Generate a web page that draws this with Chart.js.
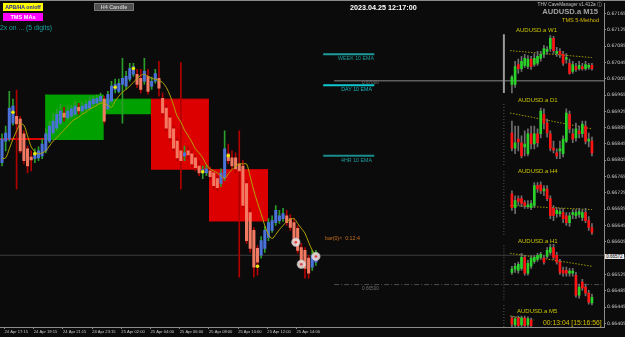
<!DOCTYPE html>
<html>
<head>
<meta charset="utf-8">
<script src="https://cdn.jsdelivr.net/npm/chart.js@4.4.0/dist/chart.umd.min.js"></script>
<style>
html, body { margin: 0; padding: 0; background: #0b0b0b; }
#wrap { position: relative; width: 625px; height: 337px; overflow: hidden; background: #0b0b0b; }
#chart { position: absolute; left: 0; top: 0; }
#topline { position: absolute; left: 0; top: 0; width: 625px; height: 1px; background: #8a8a8a; }
.t { position: absolute; white-space: nowrap; font-family: 'Liberation Sans', 'DejaVu Sans', sans-serif; line-height: 1; }
.btn { position: absolute; width: 40px; height: 8px; line-height: 8px; text-align: center; font-family: 'Liberation Sans', sans-serif; font-weight: bold; white-space: nowrap; overflow: hidden; }
</style>
</head>
<body>
<div id="wrap">
  <canvas id="chart" width="625" height="337"></canvas>
  <div id="topline"></div>

  <div class="btn" style="left:3px;top:3px;background:#ffff00;color:#1a1aa8;font-size:5.2px">APB/HA on/off</div>
  <div class="btn" style="left:3px;top:13px;background:#ff00ff;color:#ffffff;font-size:5.6px">TMS MAs</div>
  <div class="btn" style="left:94px;top:3px;background:#505050;color:#c8c8c8;font-size:5.4px;box-sizing:border-box;border:1px solid #777;line-height:6px">H4 Candle</div>
  <div class="t" style="left:0px;top:25px;font-size:6.8px;color:#1a9e9e">2x on ... (5 digits)</div>

  <div class="t" style="left:350px;top:3.5px;font-size:7.2px;font-weight:bold;color:#ffffff">2023.04.25 12:17:00</div>
  <div class="t" style="right:23px;top:2.5px;font-size:4.7px;color:#c0c0c0">THV CaveManager v1.412a ⓘ</div>
  <div class="t" style="right:27px;top:7.5px;font-size:7.6px;font-weight:bold;color:#a0a0a0">AUDUSD.a M15</div>
  <div class="t" style="right:26px;top:17.5px;font-size:5.6px;color:#d8b800">TMS 5-Method</div>

  <div class="t" style="left:516px;top:27px;font-size:6px;color:#c8c400">AUDUSD.a W1</div>
  <div class="t" style="left:518px;top:97px;font-size:6px;color:#c8c400">AUDUSD.a D1</div>
  <div class="t" style="left:518px;top:168px;font-size:6px;color:#c8c400">AUDUSD.a H4</div>
  <div class="t" style="left:518px;top:238px;font-size:6px;color:#c8c400">AUDUSD.a H1</div>
  <div class="t" style="left:517px;top:308px;font-size:6px;color:#c8c400">AUDUSD.a M5</div>

  <div class="t" style="right:251px;top:55.5px;font-size:5.3px;color:#1e9c9c">WEEK 10 EMA</div>
  <div class="t" style="right:253px;top:86.5px;font-size:5.3px;color:#19b4bc">DAY 10 EMA</div>
  <div class="t" style="right:253px;top:157.5px;font-size:5.3px;color:#1e9c9c">4HR 10 EMA</div>
  <div class="t" style="left:362px;top:80.5px;font-size:4.7px;color:#707070">0.67000</div>
  <div class="t" style="left:362px;top:287px;font-size:4.7px;color:#707070">0.66500</div>
  <div class="t" style="left:325px;top:235.5px;font-size:5.3px;color:#c87020">bar(0)&lt;&nbsp;&nbsp;0:12:4</div>
  <div class="t" style="left:543px;top:319.5px;font-size:6.8px;color:#d4c000">00:13:04 [15:16:56]</div>
  <div class="t" style="left:605px;top:253.5px;width:19px;height:5px;line-height:5px;font-size:4.5px;background:#e8e8e8;color:#000;text-align:center">0.66572</div>
</div>

<script>
// M15 bars (heikin-ashi style), bar index 0 = leftmost visible bar
const mainOpen  = [0.66799,0.66852,0.66857,0.66896,0.66913,0.66906,0.66870,0.66833,0.66813,0.66809,
                   0.66811,0.66816,0.66828,0.66852,0.66872,0.66884,0.66896,0.66921,0.66909,0.66913,
                   0.66918,0.66935,0.66926,0.66931,0.66933,0.66943,0.66945,0.66950,0.66955,0.66931,
                   0.66950,0.66979,0.66974,0.66991,0.66987,0.67004,0.67016,0.67016,0.67006,0.66999,
                   0.67011,0.66987,0.66999,0.67006,0.66957,0.66933,0.66909,0.66882,0.66852,0.66828,
                   0.66816,0.66828,0.66821,0.66811,0.66791,0.66774,0.66774,0.66779,0.66774,0.66760,
                   0.66748,0.66762,0.66821,0.66811,0.66811,0.66796,0.66791,0.66748,0.66677,0.66633,
                   0.66589,0.66572,0.66589,0.66616,0.66633,0.66652,0.66657,0.66662,0.66669,0.66662,
                   0.66652,0.66638,0.66591,0.66584,0.66565,0.66543,0.66555];
const mainHigh  = [0.66870,0.66889,0.66974,0.66955,0.66977,0.66913,0.66877,0.66840,0.66828,0.66833,
                   0.66838,0.66857,0.66882,0.66901,0.66921,0.66931,0.66943,0.66935,0.66938,0.66940,
                   0.66950,0.66945,0.66948,0.66952,0.66960,0.66962,0.66965,0.66970,0.66962,0.66974,
                   0.66999,0.67004,0.67004,0.67055,0.67023,0.67043,0.67043,0.67028,0.67028,0.67055,
                   0.67028,0.67009,0.67028,0.67048,0.66970,0.66940,0.66916,0.66889,0.66860,0.67045,
                   0.66840,0.66838,0.66828,0.66818,0.66804,0.66791,0.66794,0.66789,0.66779,0.66767,
                   0.66784,0.66877,0.66845,0.66828,0.66823,0.66877,0.66804,0.66755,0.66687,0.66640,
                   0.66596,0.66618,0.66643,0.66662,0.66669,0.66694,0.66682,0.66687,0.66682,0.66672,
                   0.66662,0.66645,0.66601,0.66591,0.66572,0.66584,0.66584];
const mainLow   = [0.66791,0.66828,0.66852,0.66891,0.66735,0.66823,0.66796,0.66774,0.66779,0.66799,
                   0.66804,0.66809,0.66823,0.66848,0.66867,0.66877,0.66891,0.66901,0.66904,0.66909,
                   0.66913,0.66918,0.66921,0.66926,0.66928,0.66938,0.66940,0.66945,0.66896,0.66926,
                   0.66945,0.66970,0.66970,0.66896,0.66979,0.66999,0.67011,0.66984,0.66970,0.66991,
                   0.66967,0.66979,0.66994,0.66962,0.66913,0.66877,0.66852,0.66828,0.66804,0.66735,
                   0.66804,0.66809,0.66789,0.66779,0.66767,0.66760,0.66767,0.66757,0.66735,0.66730,
                   0.66740,0.66755,0.66796,0.66784,0.66774,0.66518,0.66687,0.66601,0.66579,0.66518,
                   0.66523,0.66565,0.66579,0.66608,0.66628,0.66645,0.66650,0.66655,0.66645,0.66633,
                   0.66601,0.66577,0.66545,0.66516,0.66516,0.66535,0.66547];
const mainClose = [0.66857,0.66872,0.66933,0.66938,0.66894,0.66828,0.66804,0.66791,0.66806,0.66823,
                   0.66828,0.66845,0.66870,0.66889,0.66901,0.66918,0.66926,0.66911,0.66926,0.66931,
                   0.66938,0.66926,0.66938,0.66943,0.66950,0.66955,0.66957,0.66962,0.66901,0.66967,
                   0.66987,0.66991,0.66994,0.67006,0.67011,0.67030,0.67035,0.66991,0.66979,0.67023,
                   0.66974,0.66999,0.67018,0.66982,0.66921,0.66884,0.66860,0.66835,0.66811,0.66804,
                   0.66823,0.66818,0.66796,0.66787,0.66774,0.66782,0.66784,0.66765,0.66743,0.66738,
                   0.66774,0.66833,0.66804,0.66791,0.66784,0.66779,0.66694,0.66608,0.66589,0.66543,
                   0.66555,0.66608,0.66633,0.66652,0.66657,0.66682,0.66669,0.66674,0.66652,0.66640,
                   0.66608,0.66584,0.66555,0.66540,0.66528,0.66572,0.66572];
// moving average drawn over the M15 bars
const maValues  = [0.66809,0.66811,0.66833,0.66857,0.66877,0.66894,0.66891,0.66865,0.66838,0.66826,
                   0.66821,0.66823,0.66828,0.66840,0.66852,0.66860,0.66870,0.66879,0.66889,0.66899,
                   0.66906,0.66911,0.66918,0.66923,0.66931,0.66935,0.66940,0.66945,0.66945,0.66940,
                   0.66935,0.66950,0.66962,0.66972,0.66979,0.66987,0.66996,0.67006,0.67013,0.67016,
                   0.67011,0.67006,0.67004,0.67001,0.66996,0.66984,0.66965,0.66940,0.66913,0.66899,
                   0.66879,0.66865,0.66850,0.66833,0.66823,0.66811,0.66794,0.66784,0.66779,0.66774,
                   0.66767,0.66760,0.66772,0.66782,0.66791,0.66796,0.66796,0.66796,0.66765,0.66730,
                   0.66701,0.66674,0.66645,0.66623,0.66613,0.66623,0.66635,0.66645,0.66655,0.66660,
                   0.66662,0.66650,0.66638,0.66626,0.66604,0.66584,0.66569];

// signal markers on the M15 chart
const dotBars    = [3, 9, 31, 36, 55, 62, 70];
const dotPrices  = [0.66923, 0.66821, 0.66984, 0.67030, 0.66777, 0.66816, 0.66545];
const ringBars   = [80.5, 82, 86];
const ringPrices = [0.66604, 0.66550, 0.66569];

// H4 candle boxes (start / end in M15 bars)
const h4BoxStart = [11.8, 27.9, 40.8, 56.7];
const h4BoxEnd   = [27.9, 40.8, 56.7, 72.9];
const h4BoxOpen  = [0.66855, 0.66918, 0.66955, 0.66782];
const h4BoxClose = [0.66965, 0.66955, 0.66782, 0.66655];
const prevH4Top  = 0.66857;

// horizontal levels
const emaWeek = 0.67065, emaDay = 0.66989, ema4h = 0.66816;
const roundLevels = [0.67000, 0.66500];
const bidPrice = 0.66572;

// mini charts (W1, D1, H4, H1, M5) drawn in the right panel
const w1Open  = [0.66991,0.66991,0.67040,0.67030,0.67038,0.67035,0.67053,0.67040,0.67043,0.67055,0.67065,0.67072,0.67079,0.67104,0.67067,0.67072,0.67065,0.67053,0.67043,0.67023,0.67035,0.67030,0.67035,0.67030,0.67033,0.67038];
const w1High  = [0.67013,0.67048,0.67053,0.67060,0.67065,0.67062,0.67060,0.67067,0.67072,0.67072,0.67087,0.67084,0.67111,0.67109,0.67082,0.67079,0.67072,0.67067,0.67053,0.67048,0.67043,0.67048,0.67043,0.67048,0.67043,0.67043];
const w1Low   = [0.66970,0.66984,0.67018,0.67023,0.67033,0.67030,0.67028,0.67035,0.67038,0.67048,0.67057,0.67065,0.67072,0.67067,0.67060,0.67057,0.67038,0.67043,0.67016,0.67018,0.67023,0.67026,0.67026,0.67026,0.67028,0.67026];
const w1Close = [0.67009,0.67035,0.67030,0.67048,0.67055,0.67053,0.67035,0.67055,0.67060,0.67065,0.67079,0.67077,0.67104,0.67074,0.67072,0.67065,0.67043,0.67057,0.67018,0.67040,0.67028,0.67038,0.67030,0.67040,0.67038,0.67030];

const d1Open  = [0.66872,0.66835,0.66857,0.66848,0.66838,0.66821,0.66870,0.66845,0.66870,0.66870,0.66918,0.66896,0.66870,0.66835,0.66823,0.66828,0.66821,0.66852,0.66918,0.66870,0.66860,0.66877,0.66870,0.66889,0.66852,0.66852];
const d1High  = [0.66901,0.66889,0.66889,0.66865,0.66877,0.66882,0.66889,0.66889,0.66882,0.66933,0.66931,0.66906,0.66877,0.66852,0.66833,0.66852,0.66865,0.66931,0.66926,0.66882,0.66896,0.66889,0.66901,0.66901,0.66872,0.66862];
const d1Low   = [0.66828,0.66821,0.66828,0.66811,0.66816,0.66816,0.66833,0.66833,0.66838,0.66860,0.66882,0.66862,0.66828,0.66823,0.66809,0.66809,0.66813,0.66848,0.66872,0.66848,0.66852,0.66860,0.66862,0.66845,0.66838,0.66816];
const d1Close = [0.66835,0.66848,0.66850,0.66816,0.66845,0.66870,0.66845,0.66870,0.66848,0.66926,0.66896,0.66872,0.66835,0.66830,0.66816,0.66833,0.66857,0.66921,0.66882,0.66857,0.66882,0.66870,0.66894,0.66852,0.66857,0.66823];

const h4Open  = [0.66723,0.66689,0.66711,0.66711,0.66701,0.66691,0.66689,0.66694,0.66743,0.66745,0.66730,0.66735,0.66711,0.66687,0.66674,0.66674,0.66677,0.66669,0.66652,0.66672,0.66669,0.66672,0.66665,0.66677,0.66657,0.66640];
const h4High  = [0.66730,0.66718,0.66718,0.66718,0.66706,0.66706,0.66706,0.66750,0.66750,0.66752,0.66743,0.66743,0.66718,0.66694,0.66689,0.66687,0.66687,0.66677,0.66677,0.66684,0.66684,0.66687,0.66684,0.66687,0.66667,0.66650];
const h4Low   = [0.66682,0.66674,0.66694,0.66691,0.66687,0.66687,0.66684,0.66689,0.66726,0.66723,0.66718,0.66706,0.66662,0.66657,0.66665,0.66667,0.66652,0.66645,0.66643,0.66662,0.66662,0.66665,0.66657,0.66652,0.66633,0.66623];
const h4Close = [0.66689,0.66706,0.66704,0.66699,0.66694,0.66696,0.66699,0.66743,0.66735,0.66730,0.66735,0.66711,0.66669,0.66669,0.66682,0.66679,0.66662,0.66652,0.66669,0.66677,0.66677,0.66679,0.66677,0.66657,0.66640,0.66628];

const h1Open  = [0.66530,0.66538,0.66535,0.66540,0.66567,0.66528,0.66545,0.66557,0.66562,0.66567,0.66565,0.66569,0.66579,0.66591,0.66572,0.66555,0.66535,0.66535,0.66528,0.66528,0.66523,0.66474,0.66506,0.66494,0.66479,0.66455];
const h1High  = [0.66545,0.66552,0.66555,0.66577,0.66572,0.66560,0.66572,0.66572,0.66577,0.66579,0.66572,0.66591,0.66599,0.66599,0.66579,0.66562,0.66543,0.66543,0.66540,0.66540,0.66530,0.66501,0.66513,0.66501,0.66486,0.66477];
const h1Low   = [0.66525,0.66530,0.66528,0.66535,0.66523,0.66523,0.66540,0.66552,0.66557,0.66562,0.66550,0.66565,0.66574,0.66562,0.66550,0.66525,0.66521,0.66521,0.66521,0.66521,0.66469,0.66467,0.66486,0.66472,0.66452,0.66450];
const h1Close = [0.66538,0.66545,0.66550,0.66567,0.66528,0.66552,0.66565,0.66567,0.66572,0.66574,0.66555,0.66584,0.66591,0.66567,0.66555,0.66530,0.66528,0.66528,0.66533,0.66533,0.66474,0.66494,0.66491,0.66479,0.66457,0.66469];

const m5Open  = [0.66418,0.66401,0.66418,0.66401,0.66418,0.66401,0.66413];
const m5High  = [0.66423,0.66421,0.66423,0.66423,0.66423,0.66421,0.66418];
const m5Low   = [0.66396,0.66396,0.66396,0.66396,0.66396,0.66396,0.66396];
const m5Close = [0.66403,0.66416,0.66399,0.66418,0.66399,0.66416,0.66399];

// dotted trend lines of the mini charts (start, end)
const w1Trend = [0.67074, 0.67057];
const d1Trend = [0.66921, 0.66882];
const h4Trend = [0.66694, 0.66684];
const h1Trend = [0.66577, 0.66545];
const m5Trend = [0.66423, 0.66413];
// price range of each mini panel's side scale
const panelTop    = [0.67114, 0.66943, 0.66779, 0.66596, 0.66450];
const panelBottom = [0.66970, 0.66791, 0.66621, 0.66462, 0.66396];

// axes
const priceTicks = [0.67165,0.67125,0.67085,0.67045,0.67005,0.66965,0.66925,0.66885,0.66845,0.66805,
                    0.66765,0.66725,0.66685,0.66645,0.66605,0.66565,0.66525,0.66485,0.66445,0.66405];
const timeTickBars = [0.7, 8.7, 16.7, 24.7, 32.7, 40.7, 48.7, 56.7, 64.7, 72.7, 80.7];
const timeLabels = ['24 Apr 17:15','24 Apr 19:15','24 Apr 21:15','24 Apr 23:15','25 Apr 02:00','25 Apr 04:00',
                    '25 Apr 06:00','25 Apr 08:00','25 Apr 10:00','25 Apr 12:00','25 Apr 14:00'];

// layout of the chart in bar units
const X_MIN = -0.548, X_MAX = 164.93;
const MINI_FIRST = 139.7, MINI_STEP = 0.877, MINI_LEFT = 139.2, MINI_RIGHT = 161.6, PANEL_X = 137.5;

function candles(xs, o, h, l, c, st, order) {
    const up = c.map((v, i) => v >= o[i]);
    return [
        {
            type: 'bar', order: order + 1, grouped: false, barThickness: 1,
            data: xs.map((x, i) => ({ x: x, y: [l[i], h[i]] })),
            backgroundColor: up.map(u => u ? st.upWick : st.downWick)
        },
        {
            type: 'bar', order: order, grouped: false, barThickness: st.body, minBarLength: 1,
            data: xs.map((x, i) => ({ x: x, y: [o[i], c[i]] })),
            backgroundColor: up.map(u => u ? st.upBody : st.downBody)
        }
    ];
}

function seg(x0, x1, y0, y1, color, width, order, dash) {
    return {
        type: 'line', order: order, data: [{ x: x0, y: y0 }, { x: x1, y: y1 }],
        borderColor: color, borderWidth: width, borderDash: dash || [],
        pointRadius: 0, fill: false, tension: 0
    };
}

const miniXs = n => Array.from({ length: n }, (_, k) => MINI_FIRST + k * MINI_STEP);
const mainXs = mainOpen.map((_, i) => i);

const mainStyle = { upBody: '#4a72d8', downBody: '#f27a62', upWick: '#2a9d2a', downWick: '#b00000', body: 2.4 };
const miniStyle = { upBody: '#28d228', downBody: '#ff1414', upWick: '#6e6e6e', downWick: '#6e6e6e', body: 2 };

const datasets = [];

// H4 boxes
h4BoxStart.forEach((s, k) => {
    const top = Math.max(h4BoxOpen[k], h4BoxClose[k]);
    const bottom = Math.min(h4BoxOpen[k], h4BoxClose[k]);
    const col = h4BoxClose[k] >= h4BoxOpen[k] ? '#00a000' : '#dd0000';
    datasets.push({
        type: 'line', order: 20, data: [{ x: s, y: top }, { x: h4BoxEnd[k], y: top }],
        borderColor: col, borderWidth: 1, pointRadius: 0, fill: { value: bottom }, backgroundColor: col
    });
});
datasets.push(seg(X_MIN, h4BoxStart[0], prevH4Top, prevH4Top, '#dd0000', 2, 19));

// levels
datasets.push(seg(X_MIN, X_MAX, bidPrice, bidPrice, '#3c3c3c', 1, 18));
datasets.push(seg(91, X_MAX, roundLevels[0], roundLevels[0], '#5e5e5e', 1.5, 18));
datasets.push(seg(91, X_MAX, roundLevels[1], roundLevels[1], '#4e4e4e', 1, 18, [5, 2, 1, 2]));
datasets.push(seg(88, 102, emaWeek, emaWeek, '#1e9c9c', 2, 18));
datasets.push(seg(88, 102, emaDay, emaDay, '#10c8d0', 2, 18));
datasets.push(seg(88, 102, ema4h, ema4h, '#1a8c8c', 2, 18));

// mini panels
panelTop.forEach((t, k) => {
    datasets.push(k === 0
        ? seg(PANEL_X, PANEL_X, t, panelBottom[k], '#9a9a9a', 2, 17)
        : seg(PANEL_X, PANEL_X, t, panelBottom[k], '#5a5a5a', 1, 17, [1, 2]));
});
[w1Trend, d1Trend, h4Trend, h1Trend].forEach(tr => {
    datasets.push(seg(MINI_LEFT, MINI_RIGHT, tr[0], tr[1], '#a09a00', 1, 17, [1.5, 1.5]));
});
datasets.push(seg(MINI_LEFT, MINI_LEFT + 6.6, m5Trend[0], m5Trend[1], '#a09a00', 1, 17, [1.5, 1.5]));

datasets.push(...candles(miniXs(w1Open.length), w1Open, w1High, w1Low, w1Close, miniStyle, 15));
datasets.push(...candles(miniXs(d1Open.length), d1Open, d1High, d1Low, d1Close, miniStyle, 15));
datasets.push(...candles(miniXs(h4Open.length), h4Open, h4High, h4Low, h4Close, miniStyle, 15));
datasets.push(...candles(miniXs(h1Open.length), h1Open, h1High, h1Low, h1Close, miniStyle, 15));
datasets.push(...candles(miniXs(m5Open.length), m5Open, m5High, m5Low, m5Close, miniStyle, 15));

// main M15 candles
datasets.push(...candles(mainXs, mainOpen, mainHigh, mainLow, mainClose, mainStyle, 11));

// moving average
datasets.push({
    type: 'line', order: 5, data: mainXs.map((x, i) => ({ x: x, y: maValues[i] })),
    borderColor: '#b4a400', borderWidth: 1, pointRadius: 0, fill: false, tension: 0.3
});

// markers
datasets.push({
    type: 'line', order: 3, showLine: false,
    data: dotBars.map((x, i) => ({ x: x, y: dotPrices[i] })),
    pointRadius: 1.8, pointBackgroundColor: '#e8e800', pointBorderWidth: 0
});
datasets.push({
    type: 'line', order: 2, showLine: false,
    data: ringBars.map((x, i) => ({ x: x, y: ringPrices[i] })),
    pointRadius: 4.2, pointBackgroundColor: 'rgba(236,222,222,0.88)', pointBorderColor: '#bdbdbd', pointBorderWidth: 0.6
});
datasets.push({
    type: 'line', order: 1, showLine: false,
    data: ringBars.map((x, i) => ({ x: x, y: ringPrices[i] })),
    pointRadius: 1.3, pointBackgroundColor: '#e04040', pointBorderWidth: 0
});

new Chart(document.getElementById('chart'), {
    type: 'bar',
    data: { datasets: datasets },
    options: {
        responsive: false,
        animation: false,
        devicePixelRatio: 1,
        events: [],
        layout: { padding: { top: 2, left: 0, right: 0, bottom: 0 }, autoPadding: false },
        elements: { bar: { borderWidth: 0 } },
        plugins: { legend: { display: false }, tooltip: { enabled: false } },
        scales: {
            x: {
                type: 'linear', position: 'bottom', min: X_MIN, max: X_MAX, offset: false,
                afterFit: s => { s.height = 10; },
                afterBuildTicks: s => { s.ticks = timeTickBars.map(v => ({ value: v })); },
                grid: { display: true, drawOnChartArea: false, drawTicks: true, tickLength: 2, color: '#8c8c8c', offset: false },
                border: { display: true, color: '#8c8c8c', width: 1 },
                ticks: {
                    autoSkip: false, maxRotation: 0, align: 'start', padding: 0.5,
                    color: '#c8c8c8', font: { family: 'Liberation Sans', size: 4.1 },
                    callback: (v, i) => timeLabels[i]
                }
            },
            y: {
                type: 'linear', position: 'right', min: 0.66396, max: 0.67189,
                afterFit: s => { s.width = 21; },
                afterBuildTicks: s => { s.ticks = priceTicks.map(v => ({ value: v })); },
                grid: { display: true, drawOnChartArea: false, drawTicks: true, tickLength: 2, color: '#8c8c8c' },
                border: { display: true, color: '#8c8c8c', width: 1 },
                ticks: {
                    autoSkip: false, padding: 1,
                    color: '#c8c8c8', font: { family: 'DejaVu Sans', size: 4.6 },
                    callback: v => v.toFixed(5)
                }
            }
        }
    }
});
</script>
</body>
</html>
